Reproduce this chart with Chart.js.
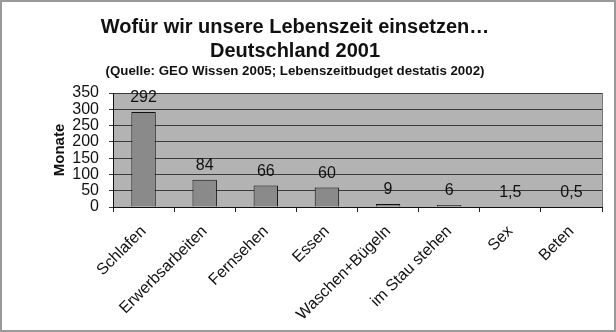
<!DOCTYPE html>
<html>
<head>
<meta charset="utf-8">
<script src="https://cdn.jsdelivr.net/npm/chart.js@4/dist/chart.umd.min.js"></script>
<style>
    html, body { margin: 0; padding: 0; background: #fff; }
    #wrap { width: 616px; height: 332px; position: relative; }
</style>
</head>
<body>
<div id="wrap"><canvas id="chart" width="616" height="332"></canvas></div>
<script>
// Lebenszeit in Monaten
const categories = ['Schlafen', 'Erwerbsarbeiten', 'Fernsehen', 'Essen', 'Waschen+Bügeln', 'im Stau stehen', 'Sex', 'Beten'];
const months = [292, 84, 66, 60, 9, 6, 1.5, 0.5];
const yTicks = [0, 50, 100, 150, 200, 250, 300, 350];

const titleLines = ['Wofür wir unsere Lebenszeit einsetzen…', 'Deutschland 2001'];
const sourceLine = '(Quelle: GEO Wissen 2005; Lebenszeitbudget destatis 2002)';

const FONT = '"Liberation Sans", Arial, sans-serif';

function formatValue(v) {
    return String(v).replace('.', ',');
}

// frame, plot background, titles, value labels
const decorPlugin = {
    id: 'decor',
    beforeDraw(chart) {
        const { ctx, chartArea: a } = chart;
        ctx.save();
        ctx.fillStyle = '#b3b3b3';
        ctx.fillRect(a.left, a.top, a.right - a.left, a.bottom - a.top);
        ctx.strokeStyle = '#777';
        ctx.lineWidth = 1;
        ctx.beginPath();
        ctx.moveTo(a.right + 0.5, a.top);
        ctx.lineTo(a.right + 0.5, a.bottom);
        ctx.stroke();
        ctx.restore();
    },
    afterDraw(chart) {
        const { ctx } = chart;
        ctx.save();
        ctx.fillStyle = '#111';
        ctx.textAlign = 'center';
        ctx.textBaseline = 'alphabetic';
        ctx.font = 'bold 20px ' + FONT;
        ctx.fillText(titleLines[0], 295, 33);
        ctx.fillText(titleLines[1], 295, 57);
        ctx.font = 'bold 13.3px ' + FONT;
        ctx.fillText(sourceLine, 295, 75);

        // value labels above bars
        ctx.font = '16px ' + FONT;
        ctx.textBaseline = 'bottom';
        const meta = chart.getDatasetMeta(0);
        meta.data.forEach((bar, i) => {
            ctx.fillText(formatValue(months[i]), bar.x, bar.y - 6);
        });

        // outer frame
        ctx.strokeStyle = '#9a9a9a';
        ctx.lineWidth = 2;
        ctx.strokeRect(1, 1, chart.width - 2, chart.height - 2);
        ctx.restore();
    }
};

const ctx = document.getElementById('chart').getContext('2d');
const chart = new Chart(ctx, {
    type: 'bar',
    data: {
        labels: categories,
        datasets: [{
            data: months,
            backgroundColor: '#8a8a8a',
            borderColor: '#111',
            borderWidth: 1,
            categoryPercentage: 1,
            barPercentage: 0.4
        }]
    },
    options: {
        responsive: false,
        animation: false,
        devicePixelRatio: 1,
        layout: {
            padding: { top: 93, right: 14, bottom: 0, left: 0 }
        },
        plugins: {
            legend: { display: false },
            tooltip: { enabled: false }
        },
        scales: {
            x: {
                grid: {
                    drawOnChartArea: false,
                    drawTicks: true,
                    tickLength: 5,
                    offset: true,
                    color: '#222'
                },
                border: { color: '#111', width: 1 },
                ticks: {
                    color: '#111',
                    font: { family: FONT, size: 16 },
                    minRotation: 45,
                    maxRotation: 45,
                    autoSkip: false,
                    padding: 10
                },
                afterFit(scale) { scale.height = 125; }
            },
            y: {
                min: 0,
                max: 350,
                afterBuildTicks(scale) {
                    scale.ticks = yTicks.map(v => ({ value: v }));
                },
                grid: {
                    color: '#3a3a3a',
                    tickLength: 4,
                    lineWidth: 1
                },
                border: { color: '#111', width: 1 },
                ticks: {
                    color: '#111',
                    font: { family: FONT, size: 16 },
                    padding: 10,
                    autoSkip: false
                },
                title: {
                    display: true,
                    text: 'Monate',
                    color: '#111',
                    font: { family: FONT, size: 15, weight: 'bold' },
                    padding: { top: 51, bottom: 0 }
                },
                afterFit(scale) { scale.width = 113; }
            }
        }
    },
    plugins: [decorPlugin]
});
</script>
</body>
</html>
